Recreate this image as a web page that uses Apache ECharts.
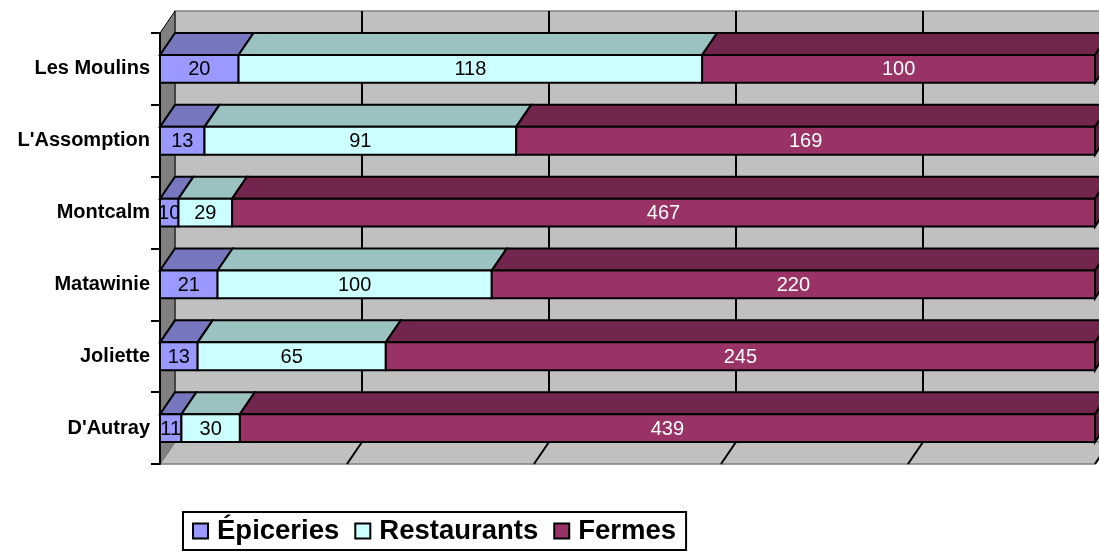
<!DOCTYPE html>
<html>
<head>
<meta charset="utf-8">
<script src="https://cdn.jsdelivr.net/npm/echarts@6/dist/echarts.min.js"></script>
<style>html,body{margin:0;padding:0;background:#fff}#c{width:1099px;height:554px}</style>
</head>
<body>
<div id="c"></div>
<script>
const categories = ["Les Moulins", "L'Assomption", "Montcalm", "Matawinie", "Joliette", "D'Autray"];
const epiceries = [20, 13, 10, 21, 13, 11];
const restaurants = [118, 91, 29, 100, 65, 30];
const fermes = [100, 169, 467, 220, 245, 439];
const seriesNames = ['Épiceries', 'Restaurants', 'Fermes'];
const xTicks = [0, 20, 40, 60, 80, 100];

const FONT = "'Liberation Sans', Arial, sans-serif";
const DX = 15, DY = 22;
const frontColors = ['#9999FF', '#CCFFFF', '#993366'];
const topColors = ['#7777C0', '#99C2C0', '#73264D'];
const sideColors = ['#5C5C99', '#7A9999', '#5C1F3D'];
const labelColors = ['#000', '#000', '#fff'];

const raw = [epiceries, restaurants, fermes];
const totals = categories.map((_, i) => raw.reduce((s, a) => s + a[i], 0));
function segData(k) {
  return categories.map((c, i) => {
    let start = 0;
    for (let j = 0; j < k; j++) start += raw[j][i] / totals[i] * 100;
    return [start, start + raw[k][i] / totals[i] * 100, i, raw[k][i]];
  });
}

function renderWalls(params, api) {
  const cs = params.coordSys;
  const x = cs.x, y = cs.y, w = cs.width, h = cs.height;
  const children = [];
  children.push({ type: 'rect', shape: { x: x + DX, y: y - DY, width: w, height: h },
    style: { fill: '#C0C0C0', stroke: '#808080', lineWidth: 1.5 } });
  children.push({ type: 'polygon', shape: { points: [[x, y], [x + DX, y - DY], [x + DX, y + h - DY], [x, y + h]] },
    style: { fill: '#808080', stroke: '#000', lineWidth: 1 } });
  children.push({ type: 'polygon', shape: { points: [[x, y + h], [x + w, y + h], [x + w + DX, y + h - DY], [x + DX, y + h - DY]] },
    style: { fill: '#C0C0C0', stroke: '#808080', lineWidth: 1.5 } });
  xTicks.forEach(t => {
    if (t === 0) return;
    const px = api.coord([t, 0])[0];
    children.push({ type: 'line', shape: { x1: px + DX, y1: y - DY, x2: px + DX, y2: y + h - DY }, style: { stroke: '#000', lineWidth: 2 } });
    children.push({ type: 'line', shape: { x1: px, y1: y + h, x2: px + DX, y2: y + h - DY }, style: { stroke: '#000', lineWidth: 2 } });
  });
  return { type: 'group', children };
}

function makeRender(k) {
  return function (params, api) {
    const s = api.value(0), e = api.value(1), ci = api.value(2), v = api.value(3);
    const p0 = api.coord([s, ci]), p1 = api.coord([e, ci]);
    const band = api.size([0, 1])[1];
    const bh = band - 2 * DY;
    const x0 = p0[0], x1 = p1[0];
    const yT = p0[1] - bh / 2, yB = p0[1] + bh / 2;
    const children = [];
    children.push({ type: 'polygon', shape: { points: [[x0, yT], [x1, yT], [x1 + DX, yT - DY], [x0 + DX, yT - DY]] },
      style: { fill: topColors[k], stroke: '#000', lineWidth: 2 } });
    if (k === 2) {
      children.push({ type: 'polygon', shape: { points: [[x1, yT], [x1 + DX, yT - DY], [x1 + DX, yB - DY], [x1, yB]] },
        style: { fill: sideColors[k], stroke: '#000', lineWidth: 2 } });
    }
    children.push({ type: 'rect', shape: { x: x0, y: yT, width: x1 - x0, height: bh },
      style: { fill: frontColors[k], stroke: '#000', lineWidth: 2 } });
    children.push({ type: 'text', x: (x0 + x1) / 2, y: p0[1] + 1,
      style: { text: String(v), fill: labelColors[k], font: '20px ' + FONT, textAlign: 'center', textVerticalAlign: 'middle' } });
    return { type: 'group', children };
  };
}

const chart = echarts.init(document.getElementById('c'), null, { renderer: 'canvas' });
const series = [{
  type: 'custom', name: '_walls', z: 1, renderItem: renderWalls, data: [[0, 0]], silent: true,
  encode: { x: 0, y: 1 }
}];
seriesNames.forEach((n, k) => {
  series.push({
    type: 'custom', name: n, z: 2 + k, renderItem: makeRender(k), data: segData(k),
    itemStyle: { color: frontColors[k] },
    encode: { x: [0, 1], y: 2 }
  });
});

chart.setOption({
  animation: false,
  backgroundColor: '#fff',
  grid: { left: 160, right: 4, top: 33, bottom: 90 },
  xAxis: { type: 'value', min: 0, max: 100, interval: 20, show: false, splitLine: { show: false } },
  yAxis: {
    type: 'category', data: categories, inverse: true, z: 10,
    axisLine: { show: true, lineStyle: { color: '#000', width: 2 } },
    axisTick: { show: true, length: 9, lineStyle: { color: '#000', width: 2 } },
    axisLabel: { color: '#000', fontFamily: FONT, fontSize: 20, fontWeight: 'bold', margin: 10 },
    splitLine: { show: false }
  },
  legend: {
    data: seriesNames, left: 183, top: 512, orient: 'horizontal',
    borderColor: '#000', borderWidth: 2, padding: [5, 10, 5, 9], itemGap: 15,
    icon: 'rect', itemWidth: 15, itemHeight: 15,
    itemStyle: { borderColor: '#000', borderWidth: 2 },
    textStyle: { color: '#000', fontFamily: FONT, fontSize: 27.5, fontWeight: 'bold', padding: [0, 0, 0, 4] }
  },
  series
});
</script>
</body>
</html>
